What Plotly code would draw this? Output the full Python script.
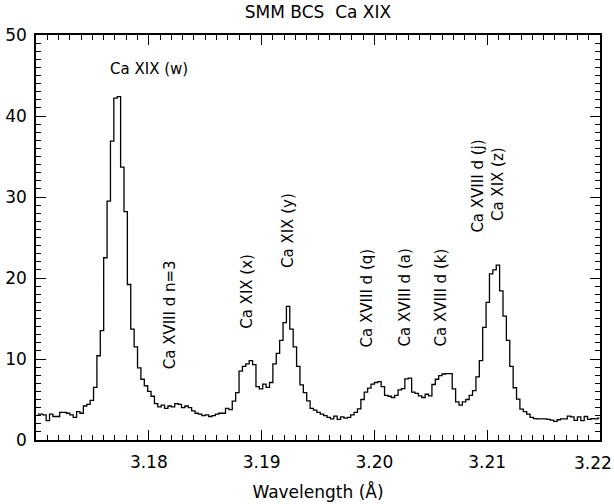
import numpy as np
import plotly.graph_objects as go

# Spectrum: counts per wavelength bin (bin width 0.0003 A starting at 3.1700 A)
bin_start = 3.1700
bin_width = 0.0003
counts = [
    3.2, 3.2, 3.1, 2.4, 3.2, 2.9, 2.9, 3.4, 3.4, 3.3,
    3.1, 2.8, 3.5, 3.3, 4.2, 4.4, 4.9, 6.5, 10.4, 13.5,
    22.5, 29.5, 36.9, 42.2, 42.4, 33.7, 28.2, 19.2, 13.7, 11.5,
    8.9, 7.5, 6.7, 6.0, 5.4, 4.5, 4.1, 4.3, 3.9, 4.2,
    4.1, 4.5, 4.4, 4.0, 4.2, 4.0, 3.6, 3.3, 3.2, 3.0,
    3.1, 2.9, 3.0, 3.2, 3.3, 3.3, 3.9, 3.75, 4.8, 5.85,
    8.5, 9.1, 9.4, 9.8, 9.3, 6.6, 6.3, 6.9, 6.5, 7.1,
    9.4, 10.7, 12.3, 14.5, 16.5, 13.7, 11.5, 9.1, 6.8, 5.85,
    4.84, 3.9, 3.7, 3.4, 3.2, 3.0, 2.8, 2.6, 2.95, 2.55,
    2.85, 2.7, 2.8, 3.1, 3.4, 3.85, 5.0, 5.9, 6.4, 6.9,
    7.1, 7.2, 6.6, 5.5, 5.4, 5.25, 5.5, 6.2, 6.35, 7.55,
    7.65, 5.9, 5.75, 5.45, 5.25, 5.65, 5.45, 6.85, 7.5, 7.95,
    8.15, 8.2, 8.2, 6.3, 4.7, 4.3, 4.7, 5.0, 5.5, 6.1,
    7.8, 9.8, 13.9, 17.0, 20.5, 21.0, 21.6, 18.4, 15.3, 12.3,
    9.1, 6.45, 5.05, 3.8, 3.5, 3.2, 2.8, 2.65, 2.6, 2.6,
    2.62, 2.54, 2.45, 2.3, 2.5, 2.6, 2.6, 2.95, 2.85, 2.42,
    2.85, 2.4, 2.9, 2.55, 2.65, 2.6, 2.7,
]
wavelength = bin_start + bin_width * (np.arange(len(counts)) + 0.5)

# Line identifications: label, wavelength, height of label centre
line_labels = ["Ca XIX (w)", "Ca XVIII d n=3", "Ca XIX (x)", "Ca XIX (y)",
               "Ca XVIII d (q)", "Ca XVIII d (a)", "Ca XVIII d (k)",
               "Ca XVIII d (j)", "Ca XIX (z)"]
label_wl = [3.1800, 3.18188, 3.18871, 3.19234, 3.19934, 3.20271, 3.2059,
            3.20918, 3.21096]
label_y = [45.8, 15.4, 18.3, 25.8, 17.6, 17.6, 17.6, 31.4, 31.6]
label_angle = [0, -90, -90, -90, -90, -90, -90, -90, -90]

x_ticks = [3.17, 3.18, 3.19, 3.20, 3.21, 3.22]
x_ticktext = ["", "3.18", "3.19", "3.20", "3.21", ""]
last_tick_label = "3.22"
y_ticks = [0, 10, 20, 30, 40, 50]

FONT = "DejaVu Sans"
fig = go.Figure()
fig.add_trace(go.Scatter(x=wavelength, y=counts, mode="lines",
                         line=dict(shape="hvh", color="black", width=1.3),
                         hoverinfo="skip", showlegend=False))

for txt, xx, yy, ang in zip(line_labels, label_wl, label_y, label_angle):
    fig.add_annotation(x=xx, y=yy, xref="x", yref="y", text=txt, showarrow=False,
                       textangle=ang, xanchor="center", yanchor="middle",
                       font=dict(family=FONT, size=15, color="black"))

# last x tick label, kept inside the page edge
fig.add_annotation(x=x_ticks[-1], y=0, xref="x", yref="paper", text=last_tick_label,
                   showarrow=False, xanchor="right", yanchor="top",
                   xshift=14, yshift=-11,
                   font=dict(family=FONT, size=17, color="black"))

axis_common = dict(showline=True, linecolor="black", linewidth=1.5, mirror="ticks",
                   ticks="inside", ticklen=10, tickwidth=1, tickcolor="black",
                   showgrid=False, zeroline=False, automargin=False,
                   tickfont=dict(family=FONT, size=17, color="black"))

fig.update_layout(
    width=614, height=504,
    margin=dict(l=36, r=14, t=35, b=64),
    paper_bgcolor="white", plot_bgcolor="white",
    title=dict(text="SMM BCS\u00a0\u00a0Ca XIX", x=0.5, xref="paper",
               y=1 - 12 / 504, yanchor="middle",
               font=dict(family=FONT, size=17, color="black")),
    xaxis=dict(range=[3.1699999, 3.2200001], tickvals=x_ticks, ticktext=x_ticktext,
               minor=dict(ticks="inside", ticklen=5, dtick=0.001, tick0=3.17,
                          tickcolor="black", tickwidth=1),
               ticklabelstandoff=6,
               title=dict(text="Wavelength (Å)", standoff=15,
                          font=dict(family=FONT, size=17, color="black")),
               **axis_common),
    yaxis=dict(range=[0, 50.0001], tickvals=y_ticks,
               minor=dict(ticks="inside", ticklen=5, dtick=1, tick0=0,
                          tickcolor="black", tickwidth=1),
               ticklabelstandoff=4,
               **axis_common),
)

fig.write_html("out.html")
